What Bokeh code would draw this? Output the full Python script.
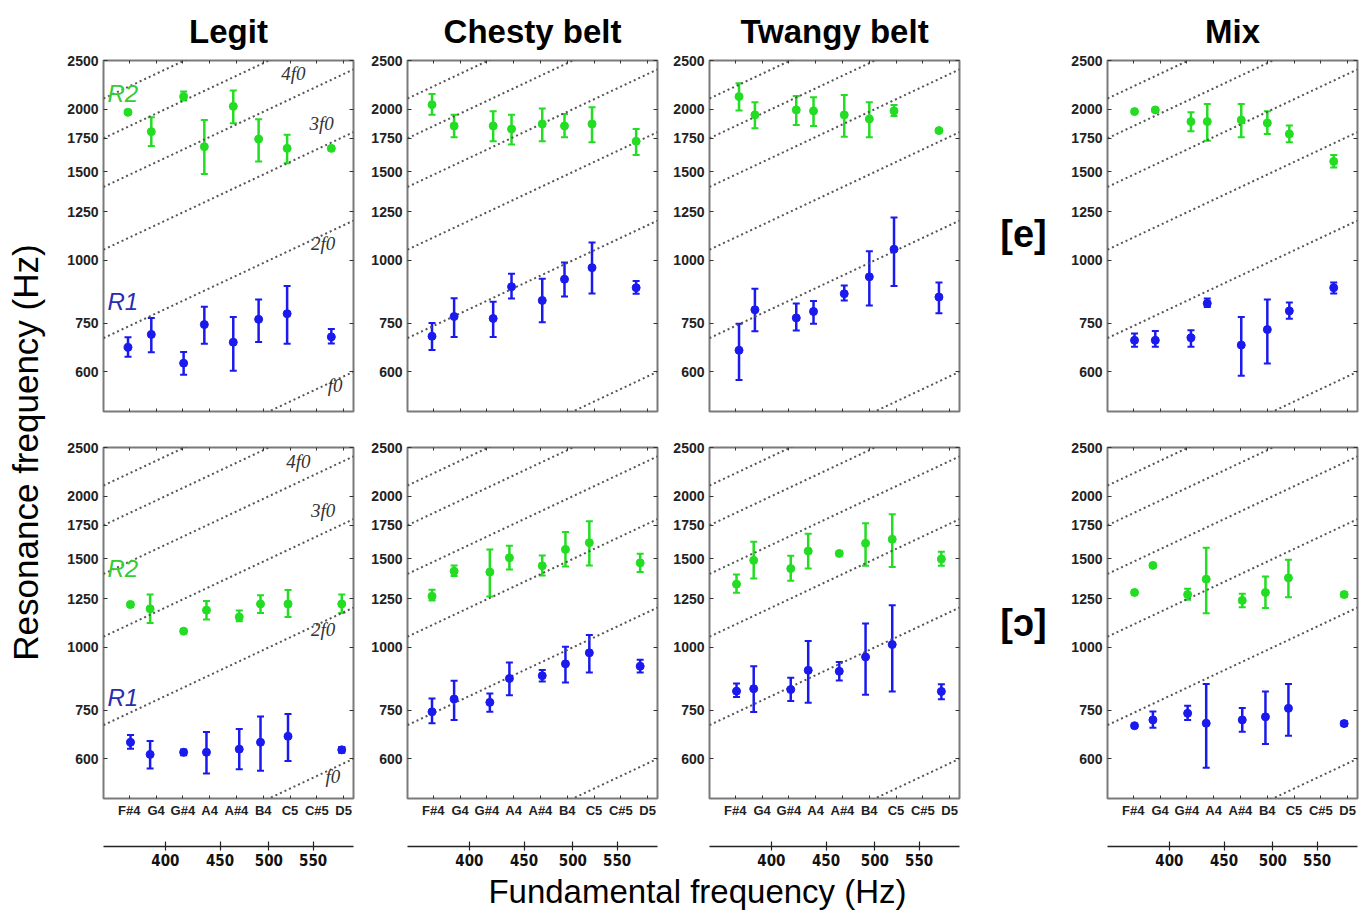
import math
from bokeh.plotting import figure
from bokeh.layouts import row, column
from bokeh.models import (LogAxis, FixedTicker, Whisker, TeeHead, ColumnDataSource,
                          Title, Range1d)
from bokeh.core.properties import value
from bokeh.embed import file_html
from bokeh.resources import INLINE

# ---------------- data ----------------
notes = ["F#4", "G4", "G#4", "A4", "A#4", "B4", "C5", "C#5", "D5"]
note_hz = [369.99, 392.00, 415.30, 440.00, 466.16, 493.88, 523.25, 554.37, 587.33]
hz_ticks = [400, 450, 500, 550]
y_ticks = [600, 750, 1000, 1250, 1500, 1750, 2000, 2500]
harmonics = [1, 2, 3, 4, 5, 6]
harmonic_names = ["f0", "2f0", "3f0", "4f0"]
f0_range = (350, 600)
res_range = (500, 2500)
column_titles = ["Legit", "Chesty belt", "Twangy belt", "Mix"]
vowels = ["[e]", "[ɔ]"]

# Legit [e]
legit_e_f0 = [369, 388, 416, 435, 463, 489, 520, 572]
legit_e_r1 = [671, 712, 624, 745, 687, 763, 783, 704]
legit_e_r1_lo = [643, 656, 592, 682, 603, 688, 682, 683]
legit_e_r1_hi = [703, 768, 657, 808, 771, 836, 889, 730]
legit_e_r2 = [1972, 1804, 2119, 1684, 2026, 1744, 1671, 1671]
legit_e_r2_lo = [1955, 1689, 2080, 1485, 1875, 1574, 1560, 1655]
legit_e_r2_hi = [1990, 1927, 2168, 1903, 2178, 1909, 1779, 1688]

# Legit [ɔ]
legit_o_f0 = [371, 387, 416, 437, 469, 491, 521, 585]
legit_o_r1 = [647, 612, 618, 618, 627, 647, 665, 625]
legit_o_r1_lo = [628, 574, 610, 561, 572, 568, 594, 617]
legit_o_r1_hi = [669, 651, 626, 678, 688, 728, 737, 633]
legit_o_r2 = [1217, 1193, 1077, 1186, 1149, 1220, 1220, 1220]
legit_o_r2_lo = [1205, 1118, 1067, 1136, 1127, 1171, 1149, 1171]
legit_o_r2_hi = [1229, 1274, 1087, 1236, 1184, 1270, 1300, 1274]

# Chesty belt [e]
chesty_e_f0 = [369, 387, 421, 438, 468, 491, 521, 573]
chesty_e_r1 = [706, 773, 766, 886, 832, 917, 967, 882]
chesty_e_r1_lo = [663, 704, 704, 839, 753, 847, 859, 858]
chesty_e_r1_hi = [750, 840, 827, 940, 919, 990, 1085, 910]
chesty_e_r2 = [2042, 1852, 1852, 1826, 1869, 1852, 1869, 1726]
chesty_e_r2_lo = [1950, 1759, 1726, 1700, 1726, 1759, 1718, 1621]
chesty_e_r2_hi = [2144, 1950, 1981, 1950, 2005, 1956, 2018, 1826]

# Chesty belt [ɔ]
chesty_o_f0 = [369, 387, 418, 436, 468, 492, 518, 578]
chesty_o_r1 = [744, 789, 777, 867, 878, 927, 975, 917]
chesty_o_r1_lo = [706, 717, 744, 803, 855, 851, 891, 891]
chesty_o_r1_hi = [791, 858, 809, 933, 901, 1003, 1058, 945]
chesty_o_r2 = [1264, 1418, 1412, 1508, 1453, 1567, 1616, 1473]
chesty_o_r2_lo = [1240, 1387, 1263, 1429, 1390, 1449, 1456, 1412]
chesty_o_r2_hi = [1302, 1456, 1567, 1593, 1524, 1697, 1782, 1536]

# Twangy belt [e]
twangy_e_f0 = [373, 386, 422, 438, 468, 494, 521, 574]
twangy_e_r1 = [662, 797, 768, 791, 858, 927, 1052, 845]
twangy_e_r1_lo = [578, 722, 725, 748, 832, 813, 889, 785]
twangy_e_r1_hi = [748, 878, 820, 830, 891, 1043, 1217, 903]
twangy_e_r2 = [2119, 1948, 1993, 1984, 1948, 1912, 1984, 1813]
twangy_e_r2_lo = [1987, 1832, 1860, 1852, 1763, 1759, 1939, 1800]
twangy_e_r2_hi = [2253, 2064, 2125, 2112, 2135, 2064, 2039, 1826]

# Twangy belt [ɔ]
twangy_o_f0 = [371, 385, 417, 433, 463, 490, 519, 577]
twangy_o_r1 = [818, 827, 824, 900, 896, 957, 1013, 817]
twangy_o_r1_lo = [796, 743, 782, 776, 859, 805, 817, 788]
twangy_o_r1_hi = [847, 917, 870, 1030, 935, 1115, 1213, 844]
twangy_o_r2 = [1336, 1490, 1435, 1555, 1538, 1611, 1641, 1499]
twangy_o_r2_lo = [1284, 1371, 1357, 1435, 1525, 1453, 1445, 1453]
twangy_o_r2_hi = [1397, 1623, 1522, 1684, 1551, 1766, 1840, 1550]

# Mix [e]
mix_e_f0 = [371, 388, 419, 434, 467, 494, 518, 570]
mix_e_r1 = [693, 693, 701, 821, 678, 728, 793, 882]
mix_e_r1_lo = [673, 673, 673, 807, 589, 623, 765, 859]
mix_e_r1_hi = [715, 723, 726, 839, 771, 836, 824, 903]
mix_e_r2 = [1978, 1993, 1889, 1889, 1903, 1877, 1785, 1574]
mix_e_r2_lo = [1965, 1980, 1807, 1730, 1759, 1785, 1718, 1531]
mix_e_r2_hi = [1991, 2006, 1972, 2048, 2048, 1981, 1855, 1621]

# Mix [ɔ]
mix_o_f0 = [371, 386, 416, 433, 468, 492, 517, 583]
mix_o_r1 = [698, 717, 739, 706, 717, 727, 756, 705]
mix_o_r1_lo = [692, 692, 717, 576, 679, 642, 667, 697]
mix_o_r1_hi = [704, 745, 765, 845, 757, 817, 845, 713]
mix_o_r2 = [1286, 1456, 1274, 1367, 1240, 1286, 1375, 1274]
mix_o_r2_lo = [1274, 1444, 1244, 1169, 1202, 1197, 1258, 1259]
mix_o_r2_hi = [1298, 1468, 1308, 1579, 1278, 1384, 1494, 1289]

# harmonic label anchors (Legit panels), R1/R2 label anchors
harm_lab_e = {"x": [586, 577, 575, 541], "y": [564, 1078, 1872, 2355]}
harm_lab_o = {"x": [583, 577, 577, 547], "y": [554, 1083, 1872, 2344]}
r_lab_e = {"x": [353, 353], "y": [829, 2148]}
r_lab_o = {"x": [353, 353], "y": [793, 1434]}

# ---------------- style ----------------
GREEN = "#22dd22"
BLUE = "#1a1aee"
DOT = "#555555"
FONT = "Liberation Sans"

FRAME_W, FRAME_H = 250, 351
LEFTS = [45, 50, 48, 44]
RIGHTS = [4, 4, 4, 3]
T_TOP, B_TOP = 60, 18
T_BOT, B_BOT = 18, 71


def style_axis(ax, labels=True, size="14px"):
    ax.axis_line_color = None
    ax.major_tick_in = 4
    ax.major_tick_out = 0
    ax.major_tick_line_color = "#333333"
    ax.major_tick_line_width = 1
    ax.minor_tick_line_color = None
    ax.major_label_text_font = FONT
    ax.major_label_text_font_style = "bold"
    ax.major_label_text_color = "#222222"
    ax.major_label_text_font_size = size if labels else "1px"
    if not labels:
        ax.major_label_standoff = 0


def make_panel(ci, ri, f0, r1, r1lo, r1hi, r2, r2lo, r2hi):
    top = ri == 0
    p = figure(x_axis_type="log", y_axis_type="log",
               x_range=Range1d(*f0_range), y_range=Range1d(*res_range),
               frame_width=FRAME_W, frame_height=FRAME_H,
               min_border_left=LEFTS[ci], min_border_right=RIGHTS[ci],
               min_border_top=T_TOP if top else T_BOT,
               min_border_bottom=B_TOP if top else B_BOT,
               x_axis_location=None, y_axis_location=None,
               output_backend="svg", toolbar_location=None)
    p.grid.visible = False
    p.outline_line_color = "#7a7a7a"
    p.outline_line_width = 2
    p.background_fill_color = "white"
    p.border_fill_color = "white"

    # axes
    ya = LogAxis(ticker=FixedTicker(ticks=y_ticks),
                 major_label_overrides={t: str(t) for t in y_ticks})
    style_axis(ya)
    ya.major_label_standoff = 5
    p.add_layout(ya, "left")
    yr = LogAxis(ticker=FixedTicker(ticks=y_ticks),
                 major_label_overrides={t: "" for t in y_ticks})
    style_axis(yr, labels=False)
    p.add_layout(yr, "right")
    xt = LogAxis(ticker=FixedTicker(ticks=note_hz),
                 major_label_overrides={t: "" for t in note_hz})
    style_axis(xt, labels=False)
    xt.major_tick_in = 3
    p.add_layout(xt, "above")
    if top:
        xb = LogAxis(ticker=FixedTicker(ticks=note_hz),
                     major_label_overrides={t: "" for t in note_hz})
        style_axis(xb, labels=False)
        xb.major_tick_in = 3
        p.add_layout(xb, "below")
        p.title = Title(text=column_titles[ci], align="center",
                        text_font=FONT, text_font_size="33px",
                        text_font_style="bold", text_color="black",
                        text_line_height=1.0, standoff=21)
    else:
        xb = LogAxis(ticker=FixedTicker(ticks=note_hz),
                     major_label_overrides={t: n for t, n in zip(note_hz, notes)})
        style_axis(xb, size="13px")
        xb.major_tick_in = 3
        xb.major_label_standoff = 4
        xb.axis_label = " "
        xb.axis_label_text_font_size = "10px"
        xb.axis_label_standoff = 12
        p.add_layout(xb, "below")
        xh = LogAxis(ticker=FixedTicker(ticks=hz_ticks),
                     major_label_overrides={t: str(t) for t in hz_ticks})
        xh.axis_line_color = "#222222"
        xh.axis_line_width = 1.5
        xh.major_tick_in = 5
        xh.major_tick_out = 4
        xh.major_tick_line_color = "#222222"
        xh.major_tick_line_width = 1.2
        xh.minor_tick_line_color = None
        xh.major_label_standoff = 3
        xh.major_label_text_font = "DejaVu Sans Condensed"
        xh.major_label_text_font_style = "bold"
        xh.major_label_text_font_size = "15px"
        xh.major_label_text_color = "#111111"
        p.add_layout(xh, "below")

    # harmonic lines k*f0
    for k in harmonics:
        p.line(x=list(f0_range), y=[k * f for f in f0_range],
               line_color=DOT, line_width=2, line_dash="2 3")

    for vals, lo, hi, col in ((r2, r2lo, r2hi, GREEN), (r1, r1lo, r1hi, BLUE)):
        src = ColumnDataSource(dict(x=f0, y=vals, lo=lo, hi=hi))
        p.add_layout(Whisker(source=src, base="x", lower="lo", upper="hi",
                             dimension="height", line_color=col, line_width=2.5,
                             upper_head=TeeHead(size=7, line_color=col, line_width=2),
                             lower_head=TeeHead(size=7, line_color=col, line_width=2)))
        p.scatter("x", "y", source=src, size=8, color=col)

    if ci == 0:
        hl = harm_lab_e if top else harm_lab_o
        p.text(x=hl["x"], y=hl["y"], text=harmonic_names,
               text_font=value("Liberation Serif"), text_font_style="italic",
               text_font_size="19px", text_color="#333333",
               text_align="right", text_baseline="middle")
        rl = r_lab_e if top else r_lab_o
        p.text(x=rl["x"], y=rl["y"], text=["R1", "R2"],
               text_font=value(FONT), text_font_style="italic",
               text_font_size="24px", text_color=["#2b2bb0", "#33cc33"],
               text_align="left", text_baseline="middle")
    return p


panel_data = [
    [(legit_e_f0, legit_e_r1, legit_e_r1_lo, legit_e_r1_hi, legit_e_r2, legit_e_r2_lo, legit_e_r2_hi),
     (legit_o_f0, legit_o_r1, legit_o_r1_lo, legit_o_r1_hi, legit_o_r2, legit_o_r2_lo, legit_o_r2_hi)],
    [(chesty_e_f0, chesty_e_r1, chesty_e_r1_lo, chesty_e_r1_hi, chesty_e_r2, chesty_e_r2_lo, chesty_e_r2_hi),
     (chesty_o_f0, chesty_o_r1, chesty_o_r1_lo, chesty_o_r1_hi, chesty_o_r2, chesty_o_r2_lo, chesty_o_r2_hi)],
    [(twangy_e_f0, twangy_e_r1, twangy_e_r1_lo, twangy_e_r1_hi, twangy_e_r2, twangy_e_r2_lo, twangy_e_r2_hi),
     (twangy_o_f0, twangy_o_r1, twangy_o_r1_lo, twangy_o_r1_hi, twangy_o_r2, twangy_o_r2_lo, twangy_o_r2_hi)],
    [(mix_e_f0, mix_e_r1, mix_e_r1_lo, mix_e_r1_hi, mix_e_r2, mix_e_r2_lo, mix_e_r2_hi),
     (mix_o_f0, mix_o_r1, mix_o_r1_lo, mix_o_r1_hi, mix_o_r2, mix_o_r2_lo, mix_o_r2_hi)],
]

cols = []
for ci in range(4):
    top_p = make_panel(ci, 0, *panel_data[ci][0])
    bot_p = make_panel(ci, 1, *panel_data[ci][1])
    cols.append(column(top_p, bot_p, spacing=0))

H = (T_TOP + FRAME_H + B_TOP) + (T_BOT + FRAME_H + B_BOT)


def text_fig(w, h):
    f = figure(width=w, height=h, x_range=Range1d(0, w), y_range=Range1d(0, h),
               min_border=0, x_axis_location=None, y_axis_location=None,
               output_backend="svg", toolbar_location=None)
    f.grid.visible = False
    f.outline_line_color = None
    f.background_fill_color = "white"
    f.border_fill_color = "white"
    return f


ytitle = text_fig(58, H)
ytitle.text(x=[25], y=[H - 452], text=["Resonance frequency (Hz)"], angle=math.pi / 2,
            text_font=value(FONT), text_font_size="35px", text_color="black",
            text_align="center", text_baseline="middle")

spacer = text_fig(100, H)
spacer.text(x=[60, 60], y=[H - 233, H - 622], text=vowels,
            text_font=value(FONT), text_font_size="38px", text_font_style="bold",
            text_color="black", text_align="center", text_baseline="middle")

XT_H = 44
xtitle = text_fig(1360, XT_H)
xtitle.text(x=[697], y=[XT_H - 22], text=["Fundamental frequency (Hz)"],
            text_font=value(FONT), text_font_size="33px", text_color="black",
            text_align="center", text_baseline="middle")

layout = column(row(ytitle, cols[0], cols[1], cols[2], spacer, cols[3], spacing=0),
                xtitle, spacing=0)

open("out.html", "w").write(file_html(layout, INLINE))
